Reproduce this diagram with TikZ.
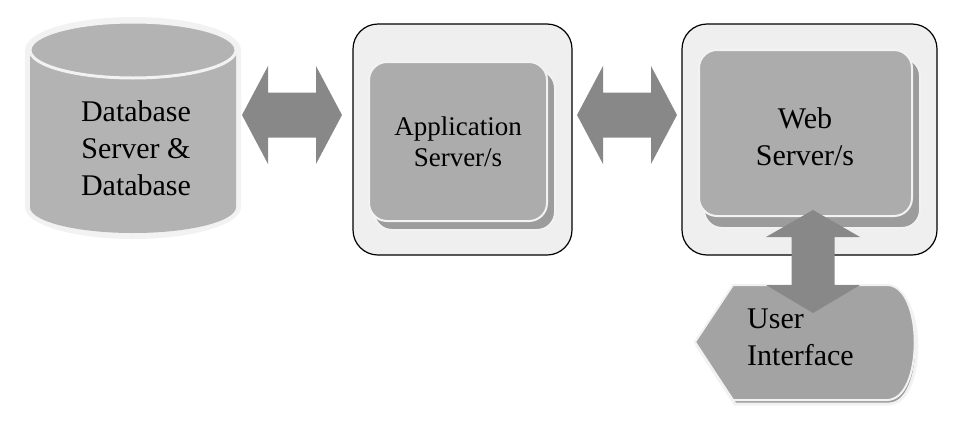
\documentclass[tikz,border=0pt]{standalone}
\usepackage{fontspec}
\setmainfont{Liberation Serif}
\usepackage{xcolor}
\usepackage{tikz}
\usetikzlibrary{positioning,calc}

\definecolor{glow}{HTML}{F2F2F2}
\definecolor{boxgray}{HTML}{B3B3B3}
\definecolor{innergray}{HTML}{ACACAC}
\definecolor{shadegray}{HTML}{9C9C9C}
\definecolor{outerfill}{HTML}{EFEFEF}
\definecolor{arrowgray}{HTML}{888888}
\definecolor{uigray}{HTML}{A3A3A3}

\begin{document}
\begin{tikzpicture}[x=1pt,y=-1pt,
    bigtext/.style={font=\fontsize{30}{37}\selectfont, align=center, inner sep=0pt},
    smalltext/.style={font=\fontsize{27}{31}\selectfont, align=center, inner sep=0pt},
    outerbox/.style={fill=outerfill, draw=black, line width=1.2pt, rounded corners=25pt},
    innerbox/.style={fill=innergray, draw=glow, line width=2pt, rounded corners=18pt},
    innershade/.style={fill=shadegray, draw=glow, line width=2pt, rounded corners=18pt},
    fatarrow/.style={fill=arrowgray}]
    \useasboundingbox (0,0) rectangle (968,426);

    % Database cylinder
    \fill[glow] (25,50) -- (25,207) arc[start angle=180, end angle=0, x radius=108, y radius=32]
        -- (241,50) arc[start angle=0, end angle=-180, x radius=108, y radius=33] -- cycle;
    \fill[boxgray] (30,50) -- (30,207) arc[start angle=180, end angle=0, x radius=103, y radius=26]
        -- (236,50) -- cycle;
    \draw[glow, fill=boxgray, line width=3pt] (133,50) ellipse[x radius=103, y radius=28];
    \node[bigtext] (db) at (136,148) {Database\\Server \&\\Database};

    % Application server box
    \draw[outerbox] (353,24) rectangle (572,255);
    \draw[innershade] (374,70) rectangle (555,230);
    \draw[innerbox] (369,62) rectangle (547,221);
    \node[smalltext] (app) at (458,142) {Application\\Server/s};

    % Web server box
    \draw[outerbox] (682,24) rectangle (937,255);
    \draw[innershade] (704,58) rectangle (920,228);
    \draw[innerbox] (699,50) rectangle (912,216);
    \node[bigtext] (web) at (805,137) {Web\\Server/s};

    % User interface (display shape)
    \draw[glow, fill=shadegray, line width=3pt] (697,346) -- (735,289) -- (889,289)
        .. controls (926,289) and (926,404) .. (889,404) -- (735,404) -- cycle;
    \draw[glow, fill=uigray, line width=2pt] (695,342) -- (733,285) -- (887,285)
        .. controls (924,285) and (924,400) .. (887,400) -- (733,400) -- cycle;
    \node[bigtext, align=left, anchor=west] (ui) at (747,337) {User\\Interface};

    % arrow ends
    \coordinate (db-e) at (242,115);
    \coordinate (app-w) at (342,115);
    \coordinate (app-e) at (577,115);
    \coordinate (web-w) at (677,115);
    \coordinate (web-s) at (813,210);
    \coordinate (ui-n) at (813,313);

    % Double arrows
    \fill[fatarrow] (db-e) -- ++(26,-49) -- ++(0,26.5) -- ++(48,0) -- ++(0,-26.5) -- (app-w)
        -- ++(-26,49) -- ++(0,-26.5) -- ++(-48,0) -- ++(0,26.5) -- cycle;
    \fill[fatarrow] (app-e) -- ++(26,-49) -- ++(0,26.5) -- ++(48,0) -- ++(0,-26.5) -- (web-w)
        -- ++(-26,49) -- ++(0,-26.5) -- ++(-48,0) -- ++(0,26.5) -- cycle;
    \fill[fatarrow] (web-s) -- ++(47,27) -- ++(-25.5,0) -- ++(0,48) -- ++(25.5,0) -- (ui-n)
        -- ++(-47,-28) -- ++(25.5,0) -- ++(0,-48) -- ++(-25.5,0) -- cycle;
\end{tikzpicture}
\end{document}
